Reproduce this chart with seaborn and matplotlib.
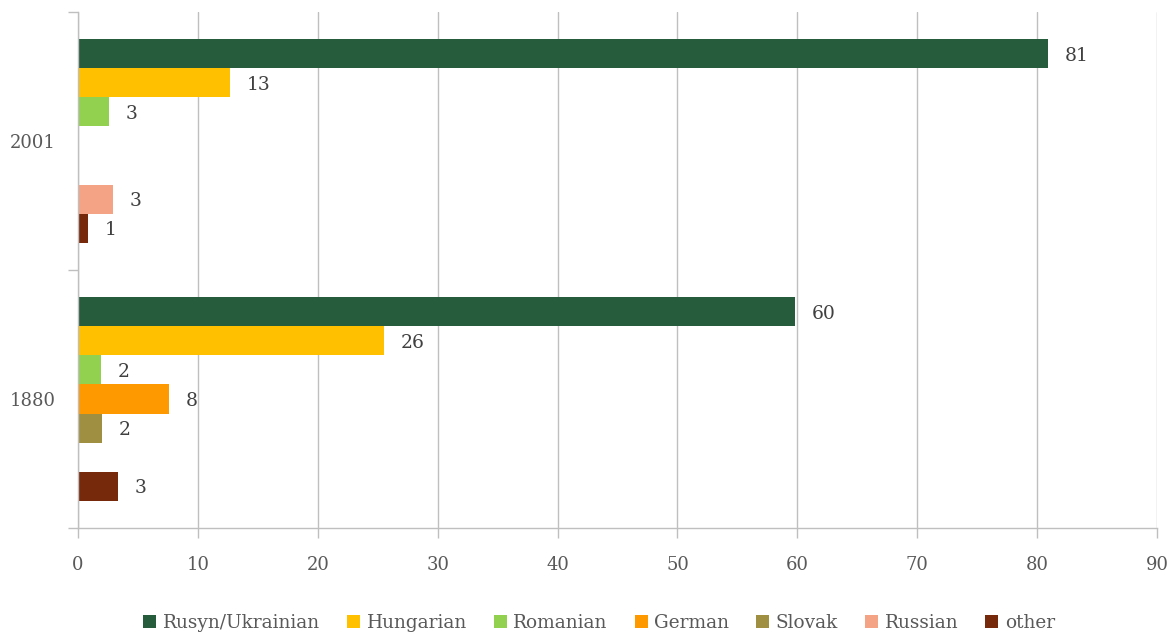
import numpy as np
import pandas as pd
import matplotlib
matplotlib.use("Agg")
import matplotlib.pyplot as plt
import seaborn as sns

years = ["2001", "1880"]
groups = ["Rusyn/Ukrainian", "Hungarian", "Romanian", "German", "Slovak", "Russian", "other"]
share_2001 = [80.9, 12.7, 2.6, np.nan, np.nan, 2.9, 0.8]
share_1880 = [59.8, 25.5, 1.9, 7.6, 2.0, np.nan, 3.3]
colors = ["#265B3C", "#FFC000", "#92D050", "#FF9900", "#9F8F40", "#F4A484", "#77290C"]
x_ticks = [0, 10, 20, 30, 40, 50, 60, 70, 80, 90]

rows = []
for year, vals in zip(years, [share_2001, share_1880]):
    for g, v in zip(groups, vals):
        rows.append({"year": year, "group": g, "share": v})
df = pd.DataFrame(rows).dropna()

sns.set_theme(style="white")
plt.rcParams["font.family"] = ["DejaVu Serif"]

fig = plt.figure(figsize=(11.7, 6.35), dpi=100)
ax = fig.add_axes([78 / 1170, 1 - 528 / 635, (1157 - 78) / 1170, (528 - 12) / 635])

sns.barplot(data=df, y="year", x="share", hue="group", order=years,
            hue_order=groups, palette=colors, orient="h", width=0.79,
            saturation=1, linewidth=0, errorbar=None, ax=ax, legend=True)

for cont in ax.containers:
    labels = [f"{v:.0f}" for v in cont.datavalues]
    texts = ax.bar_label(cont, labels=labels, padding=12, fontsize=13.5, color="#404040")
    for t in texts:
        t.set_va("center_baseline")

ax.set_xlim(0, 90)
ax.set_ylim(1.5, -0.5)
ax.set_xticks(x_ticks)
ax.set_xticklabels([str(t) for t in x_ticks])
ax.set_xlabel("")
ax.set_ylabel("")

grid_c = "#BFBFBF"
ax.grid(axis="x", color=grid_c, linewidth=1)
ax.set_axisbelow(True)
for s in ["top", "right"]:
    ax.spines[s].set_visible(False)
for s in ["left", "bottom"]:
    ax.spines[s].set_color(grid_c)
    ax.spines[s].set_linewidth(1)

ax.tick_params(axis="x", bottom=True, length=7, color=grid_c, width=1,
               labelsize=13, labelcolor="#595959", pad=13)
ax.set_yticks([-0.5, 0.5, 1.5], minor=True)
ax.tick_params(axis="y", which="minor", left=True, length=7, color=grid_c, width=1)
ax.tick_params(axis="y", which="major", left=False, length=0,
               labelsize=13, labelcolor="#595959", pad=16)

handles, labs = ax.get_legend_handles_labels()
ax.get_legend().remove()
fig.legend(handles, labs, loc="center", bbox_to_anchor=(0.512, 0.019), ncol=7,
           frameon=False, fontsize=13.3, labelcolor="#595959",
           handlelength=0.72, handleheight=0.72, handletextpad=0.35,
           columnspacing=1.45)

fig.savefig("out.png", dpi=100)
